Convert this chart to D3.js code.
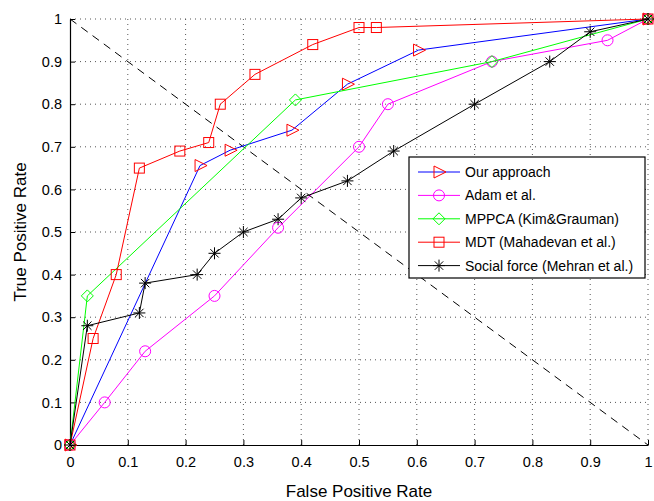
<!DOCTYPE html>
<html>
<head>
<meta charset="utf-8">
<script src="https://cdn.jsdelivr.net/npm/d3@7"></script>
<style>
  body { margin: 0; background: #fff; }
  svg { font-family: "Liberation Sans", Arial, sans-serif; }
</style>
</head>
<body>
<svg width="654" height="501"></svg>
<script>
const ticks = [0, 0.1, 0.2, 0.3, 0.4, 0.5, 0.6, 0.7, 0.8, 0.9, 1];

const oursFpr = [0, 0.225, 0.277, 0.384, 0.48, 0.603, 1];
const oursTpr = [0, 0.656, 0.692, 0.739, 0.847, 0.927, 1];

const adamFpr = [0, 0.06, 0.13, 0.25, 0.36, 0.5, 0.55, 0.73, 0.93, 1];
const adamTpr = [0, 0.1, 0.22, 0.35, 0.51, 0.7, 0.8, 0.9, 0.95, 1];

const mppcaFpr = [0, 0.03, 0.39, 0.73, 1];
const mppcaTpr = [0, 0.35, 0.81, 0.9, 1];

const mdtFpr = [0, 0.04, 0.08, 0.12, 0.19, 0.24, 0.26, 0.32, 0.42, 0.5, 0.53, 1];
const mdtTpr = [0, 0.25, 0.4, 0.65, 0.69, 0.71, 0.8, 0.87, 0.94, 0.98, 0.98, 1];

const sfFpr = [0, 0.03, 0.12, 0.13, 0.22, 0.25, 0.3, 0.36, 0.4, 0.48, 0.56, 0.7, 0.83, 0.9, 1];
const sfTpr = [0, 0.28, 0.31, 0.38, 0.4, 0.45, 0.5, 0.53, 0.58, 0.62, 0.69, 0.8, 0.9, 0.97, 1];

const series = [
  {name: 'Our approach', fpr: oursFpr, tpr: oursTpr, line: '#0000ff', mark: '#ff0000', shape: 'tri'},
  {name: 'Adam et al.', fpr: adamFpr, tpr: adamTpr, line: '#ff00ff', mark: '#ff00ff', shape: 'circle'},
  {name: 'MPPCA (Kim&Grauman)', fpr: mppcaFpr, tpr: mppcaTpr, line: '#00ff00', mark: '#00ff00', shape: 'diamond'},
  {name: 'MDT (Mahadevan et al.)', fpr: mdtFpr, tpr: mdtTpr, line: '#ff0000', mark: '#ff0000', shape: 'square'},
  {name: 'Social force (Mehran et al.)', fpr: sfFpr, tpr: sfTpr, line: '#000000', mark: '#000000', shape: 'star'}
];

const svg = d3.select('svg');
const plotL = 70, plotR = 648, plotT = 19, plotB = 445;

const x = d3.scaleLinear().domain([0, 1]).range([plotL, plotR]);
const y = d3.scaleLinear().domain([0, 1]).range([plotB, plotT]);

// grid
const grid = svg.append('g').attr('stroke', '#555').attr('stroke-width', 1)
  .attr('stroke-dasharray', '1,4');
ticks.slice(1).forEach(t => {
  grid.append('line').attr('x1', x(t)).attr('x2', x(t)).attr('y1', plotB).attr('y2', plotT);
  grid.append('line').attr('x1', plotL).attr('x2', plotR).attr('y1', y(t)).attr('y2', y(t));
});

// diagonal
svg.append('line')
  .attr('x1', x(0)).attr('y1', y(1)).attr('x2', x(1)).attr('y2', y(0))
  .attr('stroke', '#000').attr('stroke-dasharray', '8,6');

// axes
const xAxis = d3.axisBottom(x).tickValues(ticks).tickFormat(d3.format('')).tickSizeInner(-5).tickSizeOuter(0).tickPadding(12);
const yAxis = d3.axisLeft(y).tickValues(ticks).tickFormat(d3.format('')).tickSizeInner(-5).tickSizeOuter(0).tickPadding(8);

const gx = svg.append('g').attr('transform', `translate(0,${plotB})`).call(xAxis);
const gy = svg.append('g').attr('transform', `translate(${plotL},0)`).call(yAxis);
[gx, gy].forEach(g => {
  g.selectAll('text').attr('font-size', 14.5).attr('fill', '#000').attr('font-family', '"Liberation Sans", Arial, sans-serif');
  g.select('.domain').attr('stroke', '#000').attr('stroke-width', 1.2);
  g.selectAll('line').attr('stroke', '#000');
});

svg.append('text').attr('x', (plotL + plotR) / 2).attr('y', 497).attr('text-anchor', 'middle')
  .attr('font-size', 17).text('False Positive Rate');
svg.append('text').attr('transform', `translate(26,${(plotT + plotB) / 2}) rotate(-90)`)
  .attr('text-anchor', 'middle').attr('font-size', 17).text('True Positive Rate');

function drawMarker(g, shape, color, cx, cy) {
  const s = g.append('g').attr('transform', `translate(${cx},${cy})`)
    .attr('fill', 'none').attr('stroke', color).attr('stroke-width', 1);
  if (shape === 'tri') {
    s.append('path').attr('d', 'M-5,-6L7,0L-5,6Z');
  } else if (shape === 'circle') {
    s.append('circle').attr('r', 5.5);
  } else if (shape === 'diamond') {
    s.append('path').attr('d', 'M0,-6L6,0L0,6L-6,0Z');
  } else if (shape === 'square') {
    s.append('rect').attr('x', -5).attr('y', -5).attr('width', 10).attr('height', 10);
  } else if (shape === 'star') {
    s.append('path').attr('d', 'M0,-6V6M-6,0H6M-4.2,-4.2L4.2,4.2M-4.2,4.2L4.2,-4.2');
  }
}

const line = d3.line().x(d => x(d[0])).y(d => y(d[1]));

series.forEach(s => {
  const pts = s.fpr.map((f, i) => [f, s.tpr[i]]);
  svg.append('path').attr('d', line(pts)).attr('fill', 'none')
    .attr('stroke', s.line).attr('stroke-width', 1);
  const g = svg.append('g');
  pts.forEach(p => drawMarker(g, s.shape, s.mark, x(p[0]), y(p[1])));
});

// legend
const lg = svg.append('g');
lg.append('rect').attr('x', 409).attr('y', 157).attr('width', 236).attr('height', 121)
  .attr('fill', '#fff').attr('stroke', '#000').attr('stroke-width', 1.2);
series.forEach((s, i) => {
  const cy = 172 + i * 23.4;
  lg.append('line').attr('x1', 418).attr('x2', 460).attr('y1', cy).attr('y2', cy)
    .attr('stroke', s.line).attr('stroke-width', 1);
  drawMarker(lg, s.shape, s.mark, 439, cy);
  lg.append('text').attr('x', 465).attr('y', cy).attr('dy', '0.35em')
    .attr('font-size', 14).text(s.name);
});
</script>
</body>
</html>
